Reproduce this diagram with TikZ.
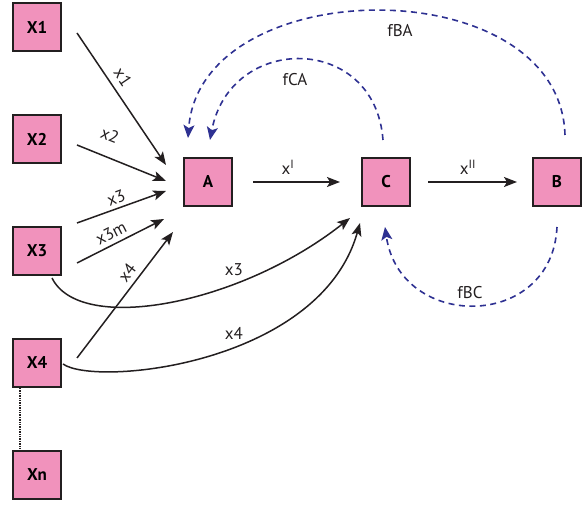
\documentclass[tikz,border=0pt]{standalone}
\usepackage{fontspec}
\setmainfont{PT Sans}
\usepackage{tikz}
\usetikzlibrary{arrows.meta, calc}

\definecolor{boxpink}{HTML}{F192BC}
\definecolor{fbblue}{HTML}{2E3192}
\definecolor{edgegray}{HTML}{231F20}

\tikzset{
  blk/.style={draw=edgegray, fill=boxpink, line width=2pt, minimum size=48pt,
    inner sep=0pt, font=\fontsize{17}{20}\selectfont\bfseries},
  flow/.style={-{Stealth[length=13pt, width=10pt, inset=3pt]}, line width=1.5pt, edgegray},
  fback/.style={-{Stealth[length=13pt, width=11pt, inset=3pt]}, line width=1.6pt, fbblue,
    dash pattern=on 6pt off 4.5pt},
  lbl/.style={font=\fontsize{17}{20}\selectfont, text=edgegray, inner sep=0pt}
}

\begin{document}
\begin{tikzpicture}[x=1pt, y=1pt]
    \useasboundingbox (0,0) rectangle (582,505);

    % Draw the input blocks
    \foreach \n/\y in {1/478, 2/366, 3/254, 4/142, n/30}
        \node[blk] (X\n) at (37,\y) {X\n};

    % Draw the main blocks
    \node[blk] (A) at (208,323) {A};
    \node[blk] (C) at (386,323) {C};
    \node[blk] (B) at (557,323) {B};

    % Inputs into A
    \draw[flow] ($(X1.east)+(15,-6)$) -- ($(A.west)+(-17,17)$);
    \draw[flow] ($(X2.east)+(15,-6)$) -- ($(A.west)+(-17,1)$);
    \draw[flow] ($(X3.east)+(15,28)$) -- ($(A.west)+(-17,-9)$);
    \draw[flow] ($(X3.east)+(15,-12)$) -- ($(A.west)+(-19,-37)$);
    \draw[flow] ($(X4.east)+(15,5)$) -- ($(A.south)+(-35,-25)$);

    % Inputs into C
    \draw[flow] ($(X3.south)+(15,-2)$) .. controls +(28,-57) and +(-110,-87) .. ($(C.south)+(-36,-11)$);
    \draw[flow] ($(X4.east)+(1,-1)$) .. controls +(32,-23) and +(-40,-142) .. ($(C.south)+(-26,-16)$);

    % Chain A -> C -> B
    \draw[flow] ($(A.east)+(20,0)$) -- ($(C.west)+(-21,0)$);
    \draw[flow] ($(C.east)+(17,0)$) -- ($(B.west)+(-15,0)$);

    % Feedback paths
    \draw[fback] ($(C.north)+(-3,17)$) .. controls +(-8,107) and +(20,107) .. ($(A.north)+(2,17)$);
    \draw[fback] ($(B.north)+(8,22)$) .. controls +(-5,167) and +(12,167) .. ($(A.north)+(-20,19)$);
    \draw[fback] ($(B.south)+(0,-20)$) .. controls +(-5,-104) and +(15,-104) .. ($(C.south)+(-1,-20)$);

    % Dots between X4 and Xn
    \draw[densely dotted, line width=1.4pt, edgegray] ($(X4.south)+(-17,0)$) -- ($(Xn.north)+(-17,0)$);

    % Label the connectors
    \node[lbl, rotate=-56] (lx1) at (123,428) {x1};
    \node[lbl, rotate=-22] (lx2) at (110,370) {x2};
    \node[lbl, rotate=20] (lx3) at (116,307) {x3};
    \node[lbl, rotate=27] (lx3m) at (111,272) {x3m};
    \node[lbl, rotate=53] (lx4) at (127,232) {x4};
    \node[lbl] (lx3c) at (234,235) {x3};
    \node[lbl] (lx4c) at (234,172) {x4};
    \node[lbl] (lxI) at (288,338) {x\textsuperscript{I}};
    \node[lbl] (lxII) at (468,338) {x\textsuperscript{II}};
    \node[lbl] (lfCA) at (295,425) {fCA};
    \node[lbl] (lfBA) at (400,474) {fBA};
    \node[lbl] (lfBC) at (470,212) {fBC};
\end{tikzpicture}
\end{document}
